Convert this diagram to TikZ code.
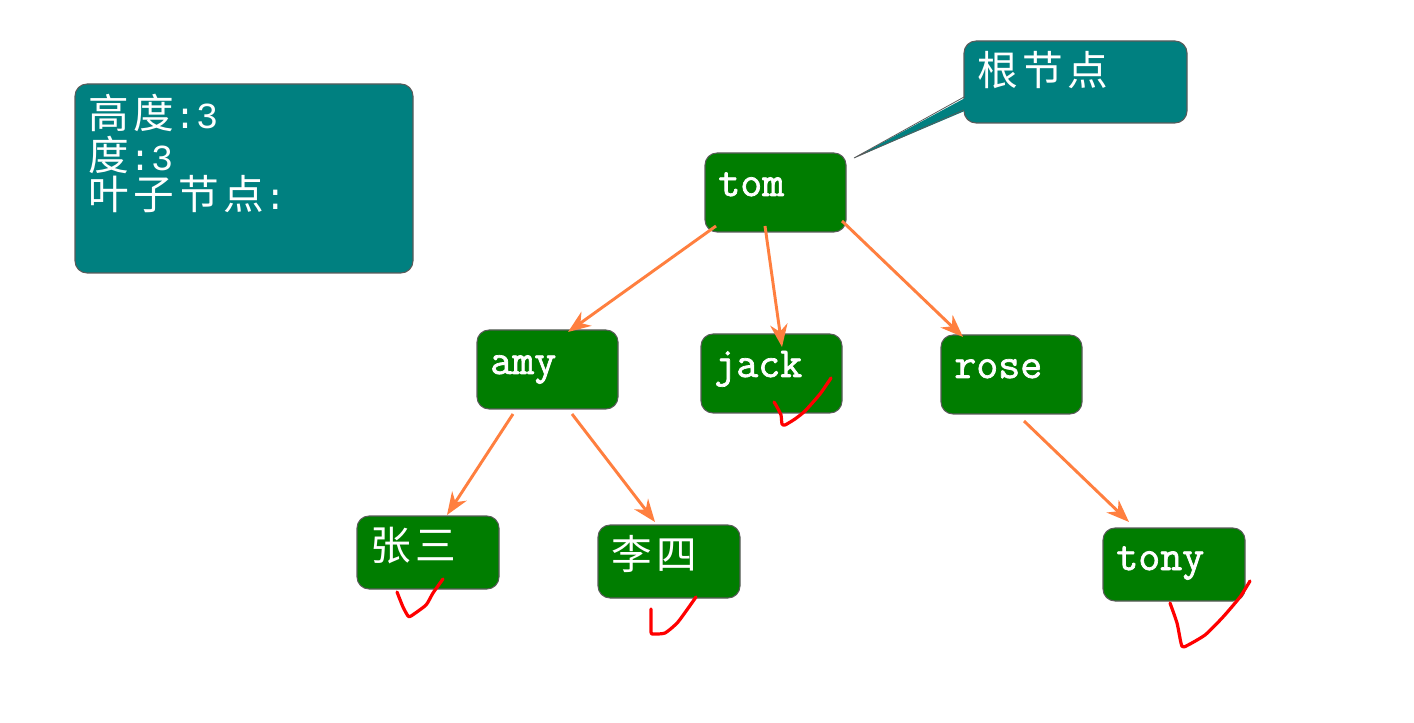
\documentclass[tikz,border=0pt]{standalone}
\usepackage{fontspec}
\usetikzlibrary{arrows.meta,calc}
\newfontfamily\cjk[LetterSpace=11]{Noto Sans CJK SC}
\newfontfamily\digit{Liberation Mono}
\newfontfamily\slab[FakeBold=1.6]{Latin Modern Mono}
\definecolor{boxgreen}{HTML}{007D00}
\definecolor{boxteal}{HTML}{008080}
\definecolor{boxedge}{HTML}{5A5A5A}
\definecolor{linkorange}{HTML}{FF7F3F}
\newcommand{\zhtext}{\cjk\fontsize{30.5}{31.5}\selectfont}
\newcommand{\monotext}{\slab\fontsize{32}{32}\selectfont}
\newcommand{\digits}[1]{{\digit\fontsize{27.5}{31.5}\selectfont #1}}
\tikzset{
  x=0.75pt, y=-0.75pt,
  % width, height, baseline distance from the bottom (all in reference pixels)
  card/.style n args={3}{draw=boxedge, line width=0.8pt, rounded corners=9pt,
    anchor=north west, outer sep=0pt, inner xsep=10pt, inner ysep=0pt, text=white,
    align=left, text width={(#1)*0.75pt-20pt},
    text height={(#2-#3)*0.75pt}, text depth={(#3)*0.75pt}},
  link/.style={draw=linkorange, line width=2.2pt,
    -{Stealth[length=17pt,width=13pt,inset=5.5pt]}},
  tick/.style={draw=red, line width=2.4pt, line join=round, line cap=round},
}
\begin{document}
\begin{tikzpicture}
\useasboundingbox (0,0) rectangle (1414,723);
\node[card={338}{189}{144}, fill=boxteal] (info) at (75,84)
  {\zhtext 高度\digits{:3}\\ 度\digits{:3}\\ 叶子节点\digits{:}};
\node[card={223}{82}{37}, fill=boxteal] (note) at (964,41) {\zhtext 根节点};
\coordinate (tip) at (854,158);
\fill[boxteal] ($(note.north west)+(3,56)$) -- (tip) -- ($(note.north west)+(3,69)$) -- cycle;
\draw[boxedge, line width=0.6pt] ($(note.north west)+(0,56)$) -- (tip) -- ($(note.north west)+(0,69)$);
\node[card={141}{79}{36}, fill=boxgreen] (tom) at (705,153) {\monotext tom};
\node[card={141}{79}{35}, fill=boxgreen] (amy) at (477,330) {\monotext amy};
\node[card={141}{79}{36}, fill=boxgreen] (jack) at (701,334) {\monotext jack};
\node[card={141}{79}{36}, fill=boxgreen] (rose) at (941,335) {\monotext rose};
\node[card={142}{73}{29}, fill=boxgreen] (zhang) at (357,516) {\zhtext 张三};
\node[card={142}{73}{29}, fill=boxgreen] (li) at (598,525) {\zhtext 李四};
\node[card={142}{73}{31}, fill=boxgreen] (tony) at (1103,528) {\monotext tony};
\draw[link] ($(tom.north west)+(11,73)$) -- ($(amy.north west)+(91,2)$);
\draw[link] ($(tom.north west)+(60,73)$) -- ($(jack.north west)+(81,13)$);
\draw[link] ($(tom.north west)+(137,68)$) -- ($(rose.north west)+(22,2)$);
\draw[link] ($(amy.north west)+(36,84)$) -- ($(zhang.north west)+(90,-1)$);
\draw[link] ($(amy.north west)+(95,84)$) -- ($(li.north west)+(57,-3)$);
\draw[link] ($(rose.north west)+(83,86)$) -- ($(tony.north west)+(26,-6)$);
\draw[tick] plot[smooth,tension=.35] coordinates {(774,402) (777,407) (781,415) (782,424) (785,425) (795,419) (805,411) (820,394) (831,378)};
\draw[tick] plot[smooth,tension=.35] coordinates {(397,592) (403,607) (408,616) (411,616) (426,605) (433,593) (443,579)};
\draw[tick] plot[smooth,tension=.35] coordinates {(651,609) (651,632) (653,634) (665,633) (678,622) (696,597)};
\draw[tick] plot[smooth,tension=.35] coordinates {(1170,603) (1177,623) (1181,643) (1184,647) (1205,635) (1223,617) (1240,597) (1250,581)};
\end{tikzpicture}
\end{document}
